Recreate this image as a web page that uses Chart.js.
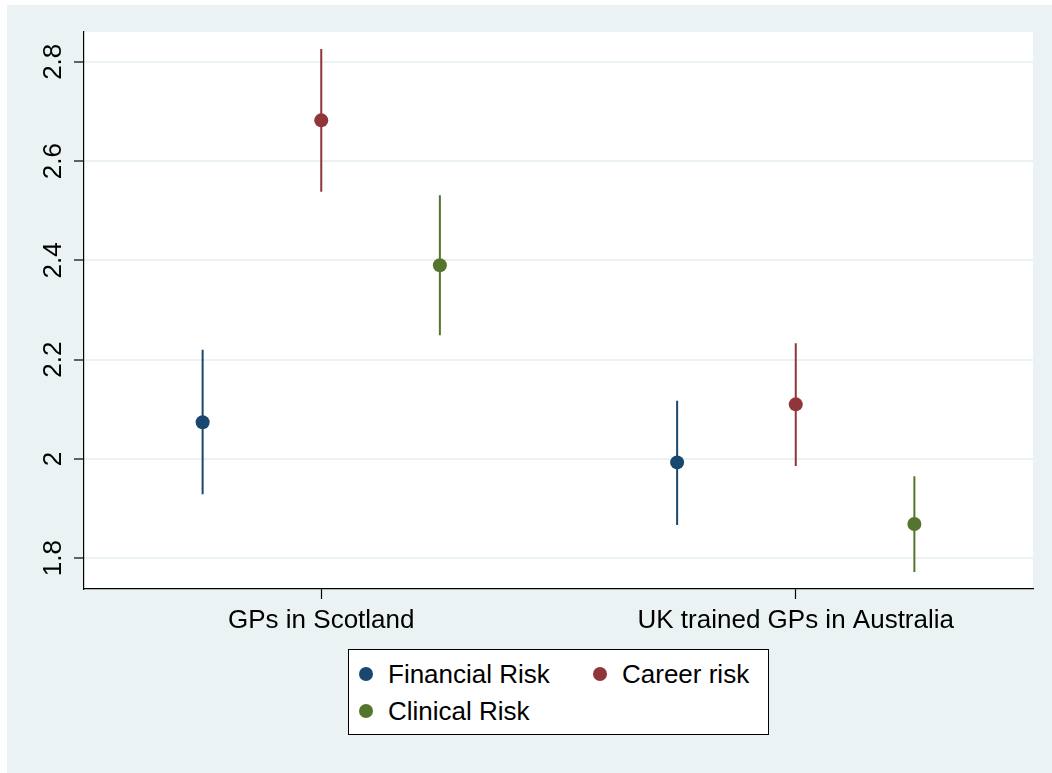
<!DOCTYPE html>
<html>
<head>
<meta charset="utf-8">
<script src="https://cdn.jsdelivr.net/npm/chart.js@4/dist/chart.umd.min.js"></script>
<style>
  body { margin: 0; background: #fff; font-family: "Liberation Sans", Arial, sans-serif; }
  #wrap { position: relative; width: 1052px; height: 773px; }
  #legend { position: absolute; left: 348px; top: 649px; width: 419px; height: 84px;
    border: 1px solid #000; background: #fff; }
  .item { position: absolute; font-size: 26px; line-height: 30px; color: #000; white-space: nowrap; }
  .dot { position: absolute; width: 14px; height: 14px; border-radius: 50%; }
</style>
</head>
<body>
<div id="wrap">
  <canvas id="grafico" width="1052" height="773"></canvas>
  <div id="legend"></div>
</div>
<script>
// categories and series
const categorias = ['GPs in Scotland', 'UK trained GPs in Australia'];
const series = ['Financial Risk', 'Career risk', 'Clinical Risk'];

// means and 95% CI
const financialMean = [2.074, 1.993];
const financialLow  = [1.929, 1.867];
const financialHigh = [2.220, 2.117];

const careerMean = [2.682, 2.110];
const careerLow  = [2.538, 1.986];
const careerHigh = [2.826, 2.233];

const clinicalMean = [2.390, 1.869];
const clinicalLow  = [2.249, 1.772];
const clinicalHigh = [2.531, 1.965];

const yTicks = [1.8, 2, 2.2, 2.4, 2.6, 2.8];

const cores = ['#1A476F', '#90353B', '#55752F'];
const deslocamento = [-0.25, 0, 0.25];

const medias = [financialMean, careerMean, clinicalMean];
const baixos = [financialLow, careerLow, clinicalLow];
const altos = [financialHigh, careerHigh, clinicalHigh];

const datasets = [];
// error bars
series.forEach(function(nome, s) {
  const pts = [];
  categorias.forEach(function(c, i) {
    const x = i + 1 + deslocamento[s];
    pts.push({x: x, y: baixos[s][i]});
    pts.push({x: x, y: altos[s][i]});
    pts.push({x: x, y: null});
  });
  datasets.push({
    type: 'line',
    label: nome + ' CI',
    data: pts,
    borderColor: cores[s],
    borderWidth: 2,
    pointRadius: 0,
    spanGaps: false,
    fill: false
  });
});
// points
series.forEach(function(nome, s) {
  datasets.push({
    type: 'scatter',
    label: nome,
    data: categorias.map(function(c, i) { return {x: i + 1 + deslocamento[s], y: medias[s][i]}; }),
    backgroundColor: cores[s],
    borderColor: cores[s],
    pointRadius: 7,
    pointHoverRadius: 7,
    borderWidth: 0
  });
});

const fundo = {
  id: 'fundo',
  beforeDraw: function(chart) {
    const ctx = chart.ctx, a = chart.chartArea;
    ctx.save();
    ctx.fillStyle = '#ffffff';
    ctx.fillRect(0, 0, chart.width, chart.height);
    ctx.fillStyle = '#EAF2F3';
    ctx.fillRect(7, 5, chart.width - 7, chart.height - 5);
    ctx.fillStyle = '#ffffff';
    ctx.fillRect(a.left, a.top, a.right - a.left, a.bottom - a.top);
    ctx.restore();
  }
};

const fonte = { family: '"Liberation Sans", Arial, sans-serif', size: 26 };

new Chart(document.getElementById('grafico').getContext('2d'), {
  data: { datasets: datasets },
  plugins: [fundo],
  options: {
    responsive: false,
    animation: false,
    devicePixelRatio: 1,
    layout: { padding: { top: 32, right: 19, left: 0, bottom: 0 } },
    plugins: { legend: { display: false }, tooltip: { enabled: false } },
    scales: {
      x: {
        type: 'linear',
        min: 0.5,
        max: 2.5,
        afterBuildTicks: function(scale) {
          scale.ticks = categorias.map(function(c, i) { return {value: i + 1}; });
        },
        afterFit: function(scale) { scale.height = 184; },
        ticks: {
          font: fonte,
          color: '#000',
          padding: 6,
          maxRotation: 0,
          autoSkip: false,
          callback: function(v, i) { return categorias[i]; }
        },
        grid: { drawOnChartArea: false, drawTicks: true, tickLength: 10, tickColor: '#000', tickWidth: 1.2 },
        border: { color: '#000', width: 1.2 }
      },
      y: {
        min: 1.738,
        max: 2.860,
        afterBuildTicks: function(scale) {
          scale.ticks = yTicks.map(function(v) { return {value: v}; });
        },
        afterFit: function(scale) { scale.width = 84; },
        ticks: {
          font: fonte,
          color: '#000',
          padding: 2,
          minRotation: 90,
          maxRotation: 90,
          crossAlign: 'center',
          callback: function(v) { return String(v); }
        },
        grid: { color: '#EAF2F3', lineWidth: 2, tickLength: 10, tickColor: '#000', tickWidth: 1.2 },
        border: { color: '#000', width: 1.2 }
      }
    }
  }
});

// legend
const legenda = document.getElementById('legend');
const posicoes = [[10, 24], [244, 24], [10, 61]];
series.forEach(function(nome, s) {
  const p = posicoes[s];
  const dot = document.createElement('span');
  dot.className = 'dot';
  dot.style.background = cores[s];
  dot.style.left = (p[0]) + 'px';
  dot.style.top = (p[1] - 7) + 'px';
  legenda.appendChild(dot);
  const t = document.createElement('div');
  t.className = 'item';
  t.textContent = nome;
  t.style.left = (p[0] + 29) + 'px';
  t.style.top = (p[1] - 15) + 'px';
  legenda.appendChild(t);
});
</script>
</body>
</html>
